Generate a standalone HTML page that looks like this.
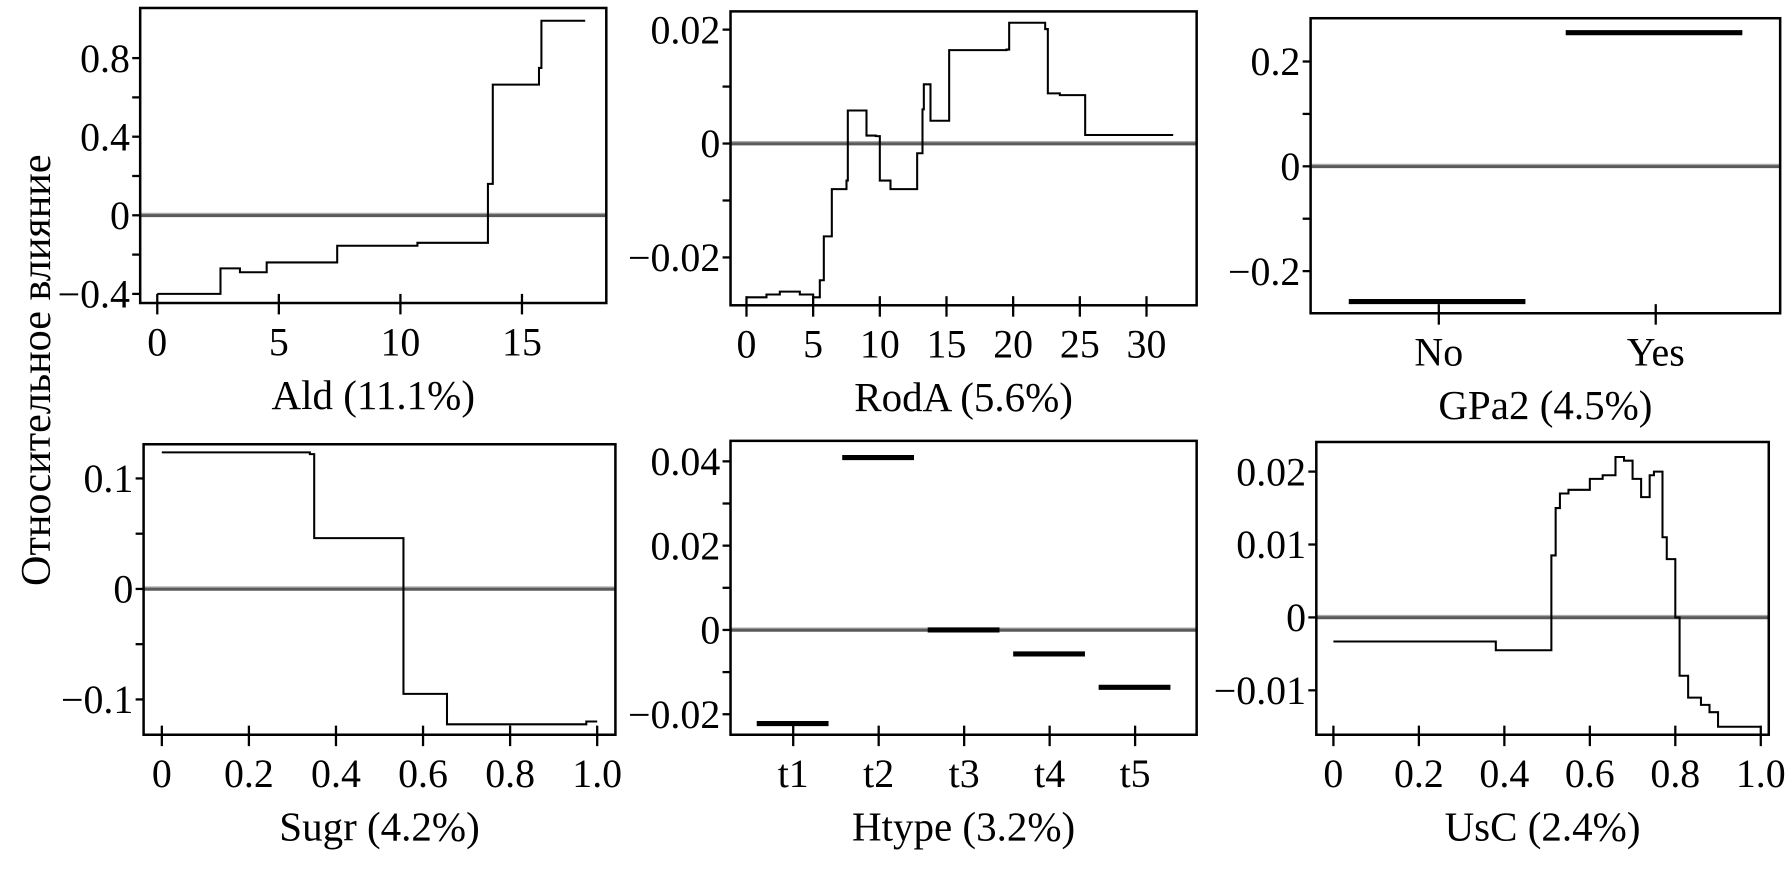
<!DOCTYPE html>
<html><head><meta charset="utf-8"><style>
html,body{margin:0;padding:0;background:#fff;}
svg{display:block;}
text{font-family:"Liberation Serif","Noto Serif CJK SC",serif;fill:#000;}
</style></head><body>
<svg id="chart" width="1787" height="876" viewBox="0 0 1568 769" preserveAspectRatio="none" xmlns="http://www.w3.org/2000/svg">
<text x="0" y="0" font-size="37" text-anchor="middle" transform="translate(44,325) rotate(-90)">Относительное влияние</text>
</svg>
<script>
// ---------- data ----------
const aldX = [0, 2.6, 3.4, 4.5, 7.4, 10.7, 13.6, 13.8, 15.7, 15.8, 17.6];
const aldY = [-0.4, -0.27, -0.29, -0.24, -0.155, -0.14, 0.16, 0.665, 0.75, 0.99, 0.99];
const rodaX = [0, 1.5, 2.5, 4, 5, 5.5, 5.8, 6.4, 7.5, 7.6, 8.7, 9.0, 9.7, 10.0, 10.8, 12.5, 12.8, 13.2, 13.3, 13.8, 14.9, 15.2, 19.5, 19.7, 21.8, 22.4, 22.6, 23.5, 25.0, 25.4, 32];
const rodaY = [-0.027, -0.0265, -0.026, -0.0265, -0.027, -0.024, -0.0163, -0.008, -0.0065, 0.0058, 0.0058, 0.0014, 0.0013, -0.0065, -0.008, -0.008, -0.0017, 0.006, 0.0104, 0.004, 0.004, 0.0164, 0.0165, 0.0212, 0.0212, 0.0201, 0.0088, 0.0085, 0.0085, 0.0015, 0.0015];
const gpaCats = ["No", "Yes"];
const gpaVals = [-0.258, 0.255];
const sugrX = [0, 0.25, 0.34, 0.35, 0.546, 0.555, 0.647, 0.655, 0.975, 1.0];
const sugrY = [0.1236, 0.1236, 0.122, 0.046, 0.046, -0.095, -0.095, -0.1225, -0.12, -0.12];
const htypeCats = ["t1", "t2", "t3", "t4", "t5"];
const htypeVals = [-0.0222, 0.0409, 0, -0.0057, -0.0136];
const uscX = [0, 0.36, 0.38, 0.5, 0.51, 0.52, 0.53, 0.55, 0.6, 0.63, 0.66, 0.68, 0.7, 0.72, 0.74, 0.75, 0.77, 0.78, 0.8, 0.81, 0.83, 0.86, 0.88, 0.9, 1.0];
const uscY = [-0.0033, -0.0033, -0.0045, -0.0045, 0.0085, 0.015, 0.017, 0.0175, 0.019, 0.0195, 0.022, 0.0215, 0.019, 0.0165, 0.0195, 0.02, 0.011, 0.008, 0, -0.008, -0.011, -0.012, -0.013, -0.015, -0.015];
const aldTicks = [0, 5, 10, 15];
const rodaTicks = [0, 5, 10, 15, 20, 25, 30];
const unitTicks = [0, 0.2, 0.4, 0.6, 0.8, 1.0];
const unitLabels = ["0", "0.2", "0.4", "0.6", "0.8", "1.0"];

const NS = "http://www.w3.org/2000/svg";
const svg = document.getElementById("chart");
function el(tag, attrs, parent) {
  const e = document.createElementNS(NS, tag);
  for (const k in attrs) e.setAttribute(k, attrs[k]);
  (parent || svg).appendChild(e);
  return e;
}
function lin(d0, d1, r0, r1) { return v => r0 + (v - d0) / (d1 - d0) * (r1 - r0); }

function panel(cfg) {
  const g = el("g", {});
  
  
  const {L, R, T, B, xs, ys} = cfg;
  // zero line
  const z = el("line", {x1: L, x2: R, y1: ys(0), y2: ys(0), stroke: "#5a5a5a", "stroke-width": 3.2}, g);
  
  
  el("line", {x1: L, x2: R, y1: ys(0) - 1.6, y2: ys(0) - 1.6, stroke: "#aaa", "stroke-width": 1.2}, g);
  // y ticks
  cfg.yTicks.forEach((v, i) => {
    const y = ys(v);
    el("line", {x1: L - 7, x2: L, y1: y, y2: y, stroke: "#000", "stroke-width": 2}, g);
    const t = el("text", {x: L - 9, y: y + 12, "font-size": 35, "text-anchor": "end"}, g);
    t.textContent = cfg.yLabels[i];
    
    
  });
  (cfg.yMinor || []).forEach(v => {
    const y = ys(v);
    el("line", {x1: L - 7, x2: L, y1: y, y2: y, stroke: "#000", "stroke-width": 2}, g);
  });
  // x ticks
  cfg.xTicks.forEach((v, i) => {
    const x = xs(v);
    el("line", {x1: x, x2: x, y1: B - 8, y2: B + 10, stroke: "#000", "stroke-width": 2}, g);
    const t = el("text", {x: x, y: B + 46, "font-size": 35, "text-anchor": "middle"}, g);
    t.textContent = cfg.xLabels[i];
    
    
  });
  // title
  const tt = el("text", {x: (L + R) / 2, y: B + 93, "font-size": 36, "text-anchor": "middle"}, g);
  tt.textContent = cfg.title;
  
  
  // marks
  if (cfg.stepX) {
    let d = "";
    for (let i = 0; i < cfg.stepX.length; i++) {
      const x = xs(cfg.stepX[i]), y = ys(cfg.stepY[i]);
      if (i === 0) d += "M" + x + "," + y;
      else d += "H" + x + "V" + y;
    }
    const p = el("path", {d: d, fill: "none", stroke: "#000", "stroke-width": 1.8}, g);
    
    
  }
  if (cfg.cats) {
    cfg.cats.forEach((c, i) => {
      const x = xs(i), y = ys(cfg.vals[i]);
      const b = el("line", {x1: x - cfg.bw[0], x2: x + cfg.bw[1], y1: y, y2: y, stroke: "#000", "stroke-width": 4.5}, g);
      
      
    });
  }
  // frame
  const f = el("rect", {x: L, y: T, width: R - L, height: B - T, fill: "none", stroke: "#000", "stroke-width": 2.2}, g);
  
  
}

panel({name: "panel-ald", L: 123, R: 532, T: 7, B: 266, xs: lin(0, 15, 138, 458), ys: lin(0, 0.8, 189, 51),
  yTicks: [0.8, 0.4, 0, -0.4], yLabels: ["0.8", "0.4", "0", "\u22120.4"], yMinor: [0.6, 0.2, -0.2],
  xTicks: aldTicks, xLabels: aldTicks.map(String), title: "Ald (11.1%)", stepX: aldX, stepY: aldY});

panel({name: "panel-roda", L: 641, R: 1050, T: 10, B: 268, xs: lin(0, 30, 655, 1006), ys: lin(0, 0.02, 126, 26),
  yTicks: [0.02, 0, -0.02], yLabels: ["0.02", "0", "\u22120.02"], yMinor: [0.01, -0.01],
  xTicks: rodaTicks, xLabels: rodaTicks.map(String), title: "RodA (5.6%)", stepX: rodaX, stepY: rodaY});

panel({name: "panel-gpa2", L: 1150, R: 1562, T: 16, B: 275, xs: lin(0, 1, 1150 + 0.273 * 412, 1150 + 0.735 * 412), ys: lin(0, 0.2, 146, 54),
  yTicks: [0.2, 0, -0.2], yLabels: ["0.2", "0", "\u22120.2"], yMinor: [0.1, -0.1],
  xTicks: [0, 1], xLabels: gpaCats, title: "GPa2 (4.5%)", cats: gpaCats, vals: gpaVals, bw: [79, 76]});

panel({name: "panel-sugr", L: 126, R: 540, T: 390, B: 645, xs: lin(0, 1, 142, 524), ys: lin(0, 0.1, 517, 420),
  yTicks: [0.1, 0, -0.1], yLabels: ["0.1", "0", "\u22120.1"], yMinor: [0.05, -0.05],
  xTicks: unitTicks, xLabels: unitLabels, title: "Sugr (4.2%)", stepX: sugrX, stepY: sugrY});

panel({name: "panel-htype", L: 641, R: 1050, T: 387, B: 645, xs: lin(0, 1, 696, 771), ys: lin(0, 0.04, 553, 405),
  yTicks: [0.04, 0.02, 0, -0.02], yLabels: ["0.04", "0.02", "0", "\u22120.02"], yMinor: [0.03, 0.01, -0.01],
  xTicks: [0, 1, 2, 3, 4], xLabels: htypeCats, title: "Htype (3.2%)", cats: htypeCats, vals: htypeVals, bw: [32, 31]});

panel({name: "panel-usc", L: 1155, R: 1552, T: 388, B: 645, xs: lin(0, 1, 1170, 1545), ys: lin(0, 0.01, 542, 478),
  yTicks: [0.02, 0.01, 0, -0.01], yLabels: ["0.02", "0.01", "0", "\u22120.01"],
  xTicks: unitTicks, xLabels: unitLabels, title: "UsC (2.4%)", stepX: uscX, stepY: uscY});
</script>
</body></html>
